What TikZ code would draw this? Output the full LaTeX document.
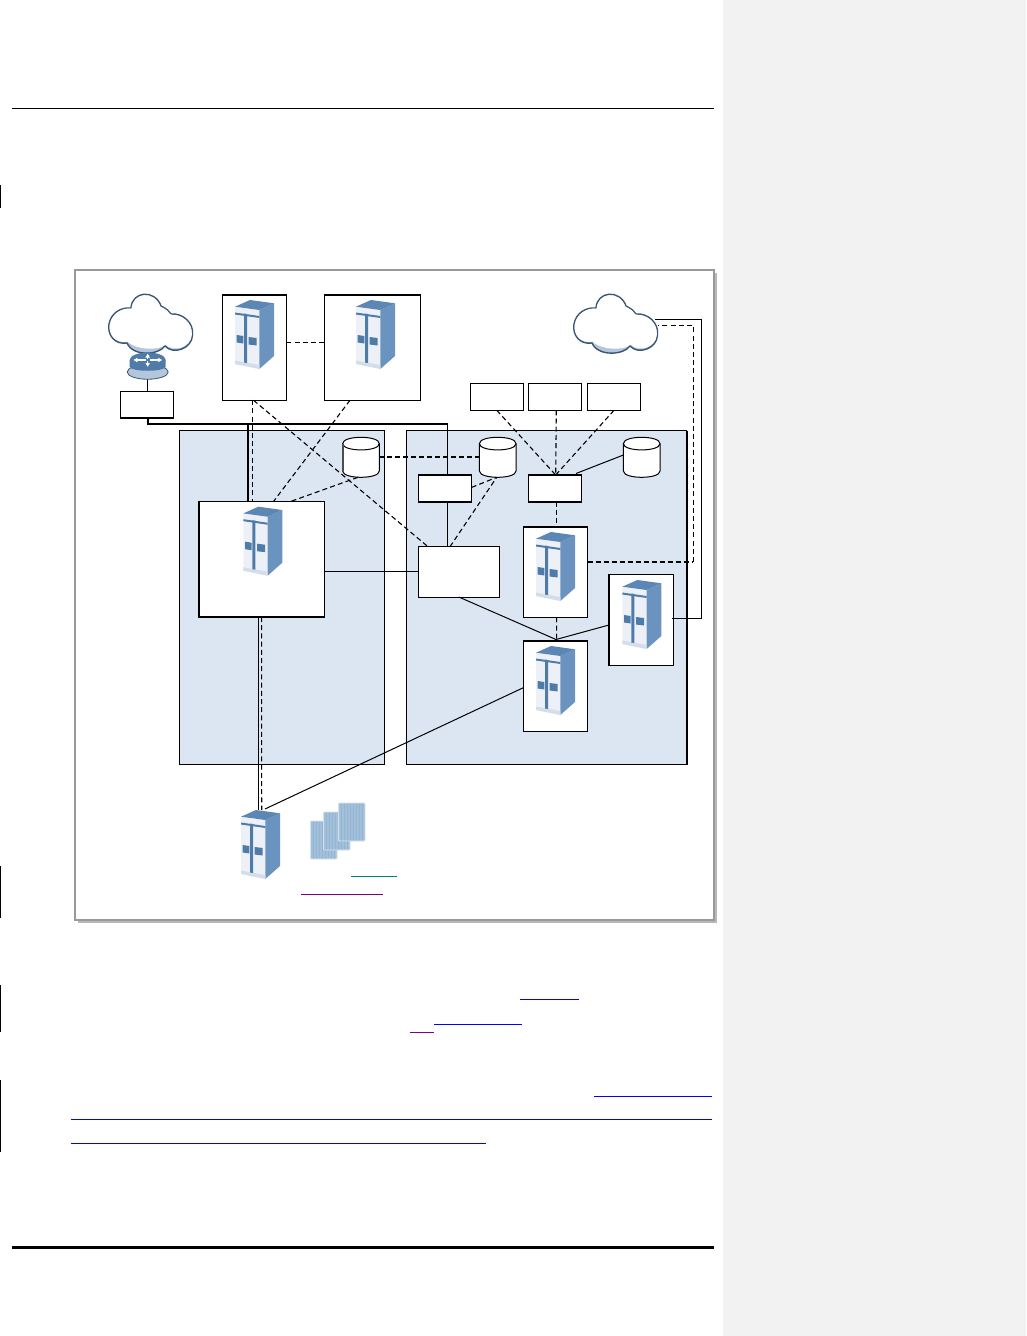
\documentclass[tikz,border=0pt]{standalone}
\usetikzlibrary{arrows.meta,shapes.geometric,calc}
\definecolor{zone}{HTML}{DCE6F2}
\definecolor{srvdark}{HTML}{4F7BA8}
\definecolor{srvside}{HTML}{6A93BF}
\definecolor{srvtop}{HTML}{5C86B3}
\definecolor{srvface}{HTML}{EDF1F7}
\definecolor{srvbase}{HTML}{D3DEEA}
\definecolor{cloudedge}{HTML}{3A5674}
\definecolor{cloudshade}{HTML}{B4C6DC}
\definecolor{docblue}{HTML}{A3C0DA}
\definecolor{docline}{HTML}{94B4D1}
\definecolor{docedge}{HTML}{D5E0EC}
\definecolor{linkblue}{HTML}{0000FF}
\definecolor{linkpurple}{HTML}{800080}
\definecolor{linkteal}{HTML}{008080}
\definecolor{margin}{HTML}{F2F2F2}
\tikzset{
  box/.style={draw=black,fill=white,line width=1pt,rectangle,inner sep=0pt,outer sep=0pt},
  boxthick/.style={box,line width=1.5pt},
  zonebox/.style={draw=black,fill=zone,line width=1pt,rectangle,inner sep=0pt,outer sep=0pt},
  dbanchor/.style={rectangle,minimum width=36.6pt,minimum height=40pt,inner sep=0pt,outer sep=0pt},
  solidl/.style={draw=black,line width=1pt},
  heavyl/.style={draw=black,line width=2pt},
  dashl/.style={draw=black,line width=1.1pt,dash pattern=on 5pt off 3.2pt},
  heavydash/.style={draw=black,line width=2pt,dash pattern=on 5pt off 3pt},
  ulink/.style={line width=1pt},
  changebar/.style={draw=black,line width=1pt},
  router arrow/.style={white,line width=1.3pt,-{Latex[length=4pt,width=5pt]}},
  server/.pic={
    \fill[srvface] (0,6.7) -- (24.3,10) -- (24.3,69) -- (0,64) -- cycle;
    \fill[srvside] (24.3,10) -- (39,3.3) -- (39,56) -- (24.3,69) -- cycle;
    \fill[srvtop] (0,6.7) -- (15,0) -- (39,3.3) -- (24.3,10) -- cycle;
    \fill[srvbase] (0,60.5) -- (24.3,65) -- (24.3,69) -- (0,64) -- cycle;
    \fill[srvdark] (0,12.5) -- (24.3,16) -- (24.3,18) -- (0,14.5) -- cycle;
    \fill[srvdark] (9,13.5) -- (12,14) -- (12,63) -- (9,62.5) -- cycle;
    \fill[srvdark] (1.7,35) -- (8.3,36) -- (8.3,43.5) -- (1.7,42.5) -- cycle;
    \fill[srvdark] (13.7,37) -- (21.7,38) -- (21.7,45.5) -- (13.7,44.5) -- cycle;
  },
  cylpic/.pic={
    \draw[black,line width=1pt,fill=white] (-18.3,-13.7) .. controls (-18.3,-22.1) and (18.3,-22.1) .. (18.3,-13.7)
      -- (18.3,13.7) .. controls (18.3,22.1) and (-18.3,22.1) .. (-18.3,13.7) -- cycle;
    \draw[black,line width=1pt] (-18.3,-13.7) .. controls (-18.3,-5.3) and (18.3,-5.3) .. (18.3,-13.7);
  },
  cloudpic/.pic={
    \path[fill=cloudshade,draw=cloudedge,line width=1.4pt] (22,13) .. controls (23,-4) and (46,-6) .. (52,11)
      .. controls (58,14) and (60,16) .. (62,19)
      .. controls (74,18) and (85,28) .. (83.5,40)
      .. controls (83,54) and (64,60) .. (56,51)
      .. controls (50,60) and (24,62) .. (18,48)
      .. controls (6,50) and (-2,40) .. (0,29)
      .. controls (2,18) and (12,12) .. (22,13) -- cycle;
    \fill[white] (22.6,13.6) .. controls (24,-3) and (45,-5) .. (51.4,11.6)
      .. controls (57.5,14.6) and (59.5,16.6) .. (61.7,19.7)
      .. controls (73,19) and (84,28) .. (82.8,40)
      .. controls (82,52) and (65,58) .. (56.5,49.5)
      .. controls (50,56) and (27,55) .. (18.5,46.6)
      .. controls (7,49) and (-1,40) .. (.8,29.2)
      .. controls (3,18.6) and (12.6,12.6) .. (22.6,13.6) -- cycle;
  },
  docsheet/.pic={
    \fill[docblue,draw=docedge,line width=.9pt,rounded corners=.8pt] (0,0) rectangle (26.5,38);
    \foreach \k in {3,6,...,24} \draw[docline,line width=.5pt] (\k,1) -- (\k,37);
  }
}
\begin{document}
\begin{tikzpicture}[x=1pt,y=-1pt]
\useasboundingbox (0,0) rectangle (1026,1336);
\fill[white] (0,0) rectangle (1026,1336);
\fill[margin] (723,0) rectangle (1026,1336);
% page rules
\draw[black,line width=.8pt] (12,108.5) -- (714,108.5);
\draw[black,line width=3pt] (12,1247.5) -- (714,1247.5);
% change bars
\draw[changebar] (.5,185) -- (.5,208);
\draw[changebar] (.5,866) -- (.5,918);
\draw[changebar] (.5,985) -- (.5,1032);
\draw[changebar] (.5,1080) -- (.5,1152);
% figure frame
\fill[black!28] (78,273) rectangle (717,923);
\node[draw=black!40,fill=white,line width=1.2pt,rectangle,inner sep=0pt,outer sep=0pt,
  minimum width=639pt,minimum height=650pt] (frame) at (394.5,595) {};
% zones
\node[zonebox,minimum width=205pt,minimum height=333.8pt] (zoneL) at (281.8,597.6) {};
\node[zonebox,minimum width=280pt,minimum height=333.8pt] (zoneR) at (546.7,597.6) {};
\draw[black,line width=1.6pt] (zoneL.north west) -- (zoneL.south west);
\draw[black,line width=2pt] (zoneR.north east) -- (zoneR.south east);
% boxes
\node[box,minimum width=63.6pt,minimum height=105.3pt] (boxA) at (254.5,347.6) {};
\node[box,minimum width=96pt,minimum height=105.3pt] (boxB) at (372.7,347.6) {};
\draw[black,line width=1.6pt] (boxA.north west) -- (boxA.north east);
\draw[black,line width=1.6pt] (boxB.north west) -- (boxB.north east);
\node[box,minimum width=52.6pt,minimum height=26.3pt] (boxR) at (147,404.85) {};
\draw[black,line width=1.6pt] (boxR.south west) -- (boxR.south east);
\node[box,minimum width=53pt,minimum height=27pt] (top1) at (496.8,396.8) {};
\node[box,minimum width=53.4pt,minimum height=27pt] (top2) at (555,396.8) {};
\node[box,minimum width=53.4pt,minimum height=27pt] (top3) at (614,396.8) {};
\node[box,minimum width=53.4pt,minimum height=26.7pt] (sw1) at (445,488.35) {};
\node[box,minimum width=53.4pt,minimum height=26.7pt] (sw2) at (555,488.35) {};
\foreach \n in {sw1,sw2}{
  \draw[black,line width=1.6pt] (\n.north west) -- (\n.north east);
  \draw[black,line width=1.6pt] (\n.south west) -- (\n.south east);
}
\node[boxthick,minimum width=125.3pt,minimum height=115.3pt] (big) at (261.65,559.35) {};
\node[box,minimum width=81pt,minimum height=50.3pt] (mid) at (458.8,571.85) {};
\node[box,minimum width=64pt,minimum height=90.6pt] (s1) at (555.7,572) {};
\draw[black,line width=1.6pt] (s1.north west) -- (s1.north east);
\node[boxthick,minimum width=64.7pt,minimum height=90.6pt] (s2) at (641.35,620) {};
\node[box,minimum width=64pt,minimum height=90.6pt] (s3) at (555.3,686) {};
\draw[black,line width=1.6pt] (s3.north west) -- (s3.north east);
% cylinders
\node[dbanchor] (c1) at (361,457.3) {};
\node[dbanchor] (c2) at (497.7,457.3) {};
\node[dbanchor] (c3) at (641.7,457.3) {};
\pic at (c1) {cylpic};
\pic at (c2) {cylpic};
\pic at (c3) {cylpic};
\draw[black!70,line width=1.6pt] ([xshift=-18.3pt,yshift=13.7pt]c1.center) -- ([xshift=-18.3pt,yshift=-13.7pt]c1.center);
% free connector ends
\coordinate (routerfoot) at (147.7,379);
\coordinate (busL) at (147.7,424);
\coordinate (busM) at (248,424);
\coordinate (busR) at (447.7,424);
\coordinate (cloudRa) at (655,319.7);
\coordinate (cloudRb) at (658.3,325.5);
\coordinate (outerS) at (701.5,319.7);
\coordinate (innerD) at (693.3,325.5);
\coordinate (srvfootA) at (258,810);
\coordinate (srvfootB) at (261.7,810);
\coordinate (srvfootC) at (265,809);
\coordinate (meet) at (556,639.5);
\coordinate (s2out) at (672.3,618.3);
\coordinate (s1out) at (587.7,562);
\coordinate (s1turn) at (693.3,562);
% connectors
\draw[dashl] ([yshift=5.3pt]boxA.east) -- ([yshift=5.3pt]boxB.west);
\draw[solidl] (routerfoot) -- (routerfoot |- boxR.north);
\draw[heavyl] (busL |- boxR.south) -- (busL) -- (busR);
\draw[solidl] (busR) -- (busR |- sw1.north);
\draw[solidl] (busR |- sw1.south) -- (busR |- mid.north);
\draw[heavyl] (busM) -- (busM |- big.north);
\draw[dashl] ([xshift=-1.8pt]boxA.south) -- ([xshift=-1.8pt]boxA.south |- big.north);
\draw[dashl] ([xshift=-1pt]boxA.south) -- ([xshift=-30.8pt]mid.north);
\draw[dashl] ([xshift=-22.7pt]boxB.south) -- ([xshift=11.7pt]big.north);
\draw[dashl] ([xshift=-3pt]c1.south) -- ([xshift=28.3pt]big.north);
\draw[heavydash] ([yshift=.3pt]c1.east) -- ([yshift=.3pt]c2.west);
\draw[dashl] ([yshift=1pt]sw1.east) -- ([xshift=-1pt]c2.south);
\draw[dashl] ([xshift=-8.8pt]mid.north) -- ([xshift=-1pt]c2.south);
\draw[dashl] (top1.south) -- ([xshift=.7pt]sw2.north);
\draw[dashl] ([xshift=1.3pt]top2.south) -- ([xshift=.7pt]sw2.north);
\draw[dashl] (top3.south) -- ([xshift=.7pt]sw2.north);
\draw[solidl] ([xshift=21pt,yshift=1.5pt]sw2.north) -- ([yshift=2.3pt]c3.west);
\draw[dashl] ([xshift=1.3pt]sw2.south) -- ([xshift=.6pt]s1.north);
\draw[heavydash] (s1out) -- (s1turn);
\draw[dashl] (s1turn) -- (innerD) -- (cloudRb);
\draw[solidl] (cloudRa) -- (outerS) -- (outerS |- s2out) -- (s2out);
\draw[solidl] (big.east |- mid.west) -- (mid.west);
\draw[solidl] (mid.south) -- (meet);
\draw[solidl] (meet) -- ([yshift=-5pt]s2.west);
\draw[dashl] ([xshift=.9pt]s1.south) -- ([xshift=1.3pt]s3.north);
\draw[solidl] ([yshift=-1.7pt]s3.west) -- (srvfootC);
\draw[solidl] ([xshift=-3.65pt]big.south) -- (srvfootA);
\draw[dashl] (big.south) -- (srvfootB);
% clouds and router
\pic at (109,295) {cloudpic};
\pic at (574,295) {cloudpic};
\node[draw=cloudedge,fill=cloudshade,ellipse,line width=.8pt,minimum width=41pt,minimum height=14.5pt,inner sep=0pt] (routerbase) at (147.7,372) {};
\node[fill=srvdark,ellipse,minimum width=36pt,minimum height=15pt,inner sep=0pt] (routertop) at (147.7,360) {};
\fill[srvdark] (129.7,360) -- (129.7,367) .. controls (132,372) and (163,372) .. (165.7,367) -- (165.7,360) -- cycle;
\draw[router arrow] (146,360) -- (133.3,360);
\draw[router arrow] (149.5,360) -- (162.3,360);
\draw[router arrow] (147.7,359) -- (147.7,353.5);
\draw[router arrow] (147.7,361) -- (147.7,367);
% servers
\pic at (235,300) {server};
\pic at (356,300) {server};
\pic at (243.3,506.7) {server};
\pic at (536,532) {server};
\pic at (622.3,580) {server};
\pic at (536,646) {server};
\pic at (241,810) {server};
% documents
\pic at (310.5,821) {docsheet};
\pic at (323.5,812) {docsheet};
\pic at (338.5,803) {docsheet};
% link underlines
\draw[linkteal,ulink] (351,876.5) -- (397,876.5);
\draw[linkpurple,ulink] (301,894.5) -- (383,894.5);
\draw[linkblue,ulink] (520,999.5) -- (579,999.5);
\draw[linkblue,ulink] (434,1024.5) -- (522,1024.5);
\draw[linkpurple,ulink] (410,1032) -- (434,1032);
\draw[linkblue,ulink] (594,1096) -- (712,1096);
\draw[linkblue,ulink] (71,1119.5) -- (712,1119.5);
\draw[linkblue,ulink] (71,1143) -- (486,1143);
\end{tikzpicture}
\end{document}
